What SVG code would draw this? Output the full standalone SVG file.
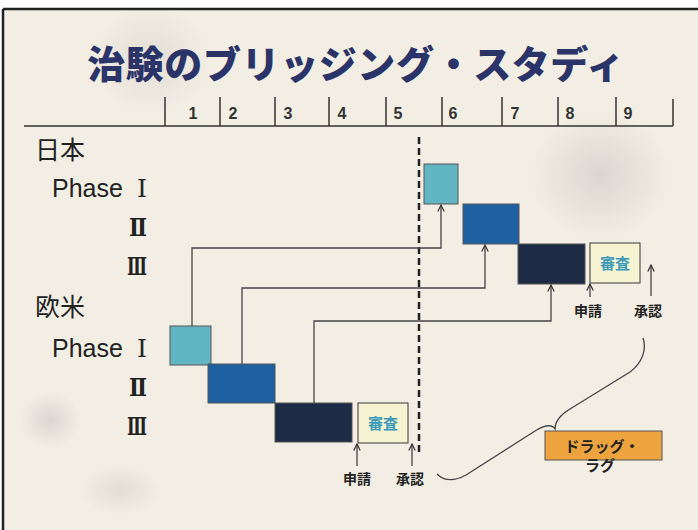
<svg xmlns="http://www.w3.org/2000/svg" width="698" height="530" viewBox="0 0 698 530">
<defs>
<style>
.lbl{font-family:"Liberation Sans","Noto Sans CJK JP",sans-serif;fill:#222;font-size:25px;}
.rom{font-family:"DejaVu Serif","Noto Sans CJK JP",serif;fill:#222;font-size:24px;}
.romb{font-family:"DejaVu Serif","Noto Sans CJK JP",serif;fill:#222;font-size:24px;font-weight:bold;}
.num{font-family:"Liberation Sans",sans-serif;font-size:16px;font-weight:bold;fill:#333;}
.small{font-family:"Noto Sans CJK JP",sans-serif;font-size:14px;font-weight:bold;fill:#222;text-anchor:middle;}
.tick{stroke:#333;stroke-width:1.5;}
.conn{fill:none;stroke:#444;stroke-width:1.3;}
.box{stroke:#555;stroke-width:1;}
</style>
<marker id="ah" viewBox="0 0 10 10" refX="9" refY="5" markerWidth="8" markerHeight="8" orient="auto" markerUnits="userSpaceOnUse">
<path d="M1,1 L9,5 L1,9" fill="none" stroke="#333" stroke-width="1.5"/>
</marker>
<radialGradient id="smudge">
<stop offset="0" stop-color="#b8b2b0" stop-opacity="0.4"/>
<stop offset="1" stop-color="#b8b2b0" stop-opacity="0"/>
</radialGradient>
</defs>
<rect x="0" y="0" width="698" height="530" fill="#ffffff"/>
<rect x="3" y="9" width="695" height="521" fill="#f2eee4"/>
<g id="background-smudges">
<ellipse cx="600" cy="175" rx="70" ry="65" fill="url(#smudge)"/>
<ellipse cx="150" cy="60" rx="60" ry="55" fill="url(#smudge)" opacity="0.7"/>
<ellipse cx="50" cy="420" rx="30" ry="28" fill="url(#smudge)"/>
<ellipse cx="120" cy="490" rx="40" ry="25" fill="url(#smudge)" opacity="0.7"/>
</g>
<line x1="3" y1="9" x2="698" y2="9" stroke="#222" stroke-width="2.5"/>
<line x1="3" y1="9" x2="3" y2="530" stroke="#222" stroke-width="2.5"/>

<g id="title">
<text x="356" y="78" text-anchor="middle" font-family="'Noto Sans CJK JP',sans-serif" font-weight="900" font-size="38" letter-spacing="0.6" fill="#2b3468">治験のブリッジング・スタディ</text>
</g>

<g id="timeline">
<line class="tick" x1="24" y1="126" x2="673" y2="126"/>
<line class="tick" x1="165" y1="97" x2="165" y2="126"/>
<line class="tick" x1="220" y1="97" x2="220" y2="126"/>
<line class="tick" x1="275" y1="97" x2="275" y2="126"/>
<line class="tick" x1="329" y1="97" x2="329" y2="126"/>
<line class="tick" x1="386" y1="97" x2="386" y2="126"/>
<line class="tick" x1="442" y1="97" x2="442" y2="126"/>
<line class="tick" x1="502" y1="97" x2="502" y2="126"/>
<line class="tick" x1="558" y1="97" x2="558" y2="126"/>
<line class="tick" x1="616" y1="97" x2="616" y2="126"/>
<line class="tick" x1="673" y1="99" x2="673" y2="126"/>
<text class="num" x="193" y="119" text-anchor="middle">1</text>
<text class="num" x="233" y="119" text-anchor="middle">2</text>
<text class="num" x="288" y="119" text-anchor="middle">3</text>
<text class="num" x="342" y="119" text-anchor="middle">4</text>
<text class="num" x="398" y="119" text-anchor="middle">5</text>
<text class="num" x="453" y="119" text-anchor="middle">6</text>
<text class="num" x="515" y="119" text-anchor="middle">7</text>
<text class="num" x="570" y="119" text-anchor="middle">8</text>
<text class="num" x="628" y="119" text-anchor="middle">9</text>
</g>

<g id="row-labels">
<text class="lbl" x="35" y="159">日本</text>
<text class="lbl" x="52" y="197">Phase</text>
<text class="rom" x="137" y="197" textLength="10" lengthAdjust="spacingAndGlyphs">Ⅰ</text>
<text class="romb" x="129" y="236" textLength="18" lengthAdjust="spacingAndGlyphs">Ⅱ</text>
<text class="romb" x="127" y="275" textLength="20" lengthAdjust="spacingAndGlyphs">Ⅲ</text>
<text class="lbl" x="35" y="316">欧米</text>
<text class="lbl" x="52" y="357">Phase</text>
<text class="rom" x="137" y="357" textLength="10" lengthAdjust="spacingAndGlyphs">Ⅰ</text>
<text class="romb" x="129" y="396" textLength="18" lengthAdjust="spacingAndGlyphs">Ⅱ</text>
<text class="romb" x="127" y="435" textLength="20" lengthAdjust="spacingAndGlyphs">Ⅲ</text>
</g>

<line id="cutoff" x1="419" y1="137" x2="419" y2="456" stroke="#222" stroke-width="2.5" stroke-dasharray="7,4"/>

<g id="connectors">
<path class="conn" d="M192,326 V248 H441 V205" marker-end="url(#ah)"/>
<path class="conn" d="M242,364 V288 H485 V245" marker-end="url(#ah)"/>
<path class="conn" d="M314,403 V321 H551 V285" marker-end="url(#ah)"/>
<path class="conn" d="M357,466 V444" marker-end="url(#ah)"/>
<path class="conn" d="M412,466 V444" marker-end="url(#ah)"/>
<path class="conn" d="M590,297 V284" marker-end="url(#ah)"/>
<path class="conn" d="M651,296 V265" marker-end="url(#ah)"/>
<path class="conn" d="M437,474 C445,482 455,481 466,475 L535,431 C545,425 552,424 555,429 C555,421 560,415 570,409 L630,372 C642,363 647,350 643,338"/>
</g>

<g id="eu-phase1"><rect class="box" x="170" y="326" width="41" height="39" fill="#62b5c2"/></g>
<g id="eu-phase2"><rect class="box" x="208" y="364" width="67" height="39" fill="#1f60a0"/></g>
<g id="eu-phase3"><rect class="box" x="275" y="403" width="77" height="39" fill="#1e2b45"/></g>
<g id="eu-review">
<rect x="358" y="403" width="50" height="40" fill="#f6f3d3" stroke="#555" stroke-width="1.2"/>
<text x="383" y="429" text-anchor="middle" font-family="'Noto Sans CJK JP',sans-serif" font-weight="bold" font-size="15" fill="#3b9ab8">審査</text>
</g>
<g id="eu-labels">
<text class="small" x="357" y="484">申請</text>
<text class="small" x="410" y="484">承認</text>
</g>

<g id="jp-phase1"><rect class="box" x="424" y="164" width="34" height="40" fill="#62b5c2"/></g>
<g id="jp-phase2"><rect class="box" x="463" y="204" width="56" height="40" fill="#1f60a0"/></g>
<g id="jp-phase3"><rect class="box" x="518" y="244" width="67" height="40" fill="#1e2b45"/></g>
<g id="jp-review">
<rect x="590" y="243" width="50" height="40" fill="#f6f3d3" stroke="#555" stroke-width="1.2"/>
<text x="615" y="269" text-anchor="middle" font-family="'Noto Sans CJK JP',sans-serif" font-weight="bold" font-size="15" fill="#3b9ab8">審査</text>
</g>
<g id="jp-labels">
<text class="small" x="588" y="316">申請</text>
<text class="small" x="648" y="316">承認</text>
</g>

<g id="drug-lag">
<rect x="545" y="431" width="117" height="29" fill="#eea43e" stroke="#555" stroke-width="1"/>
<text x="602" y="452" text-anchor="middle" font-family="'Noto Sans CJK JP',sans-serif" font-weight="bold" font-size="15" fill="#222">ドラッグ・</text>
<text x="600" y="471" text-anchor="middle" font-family="'Noto Sans CJK JP',sans-serif" font-weight="bold" font-size="15" fill="#222">ラグ</text>
</g>
</svg>
